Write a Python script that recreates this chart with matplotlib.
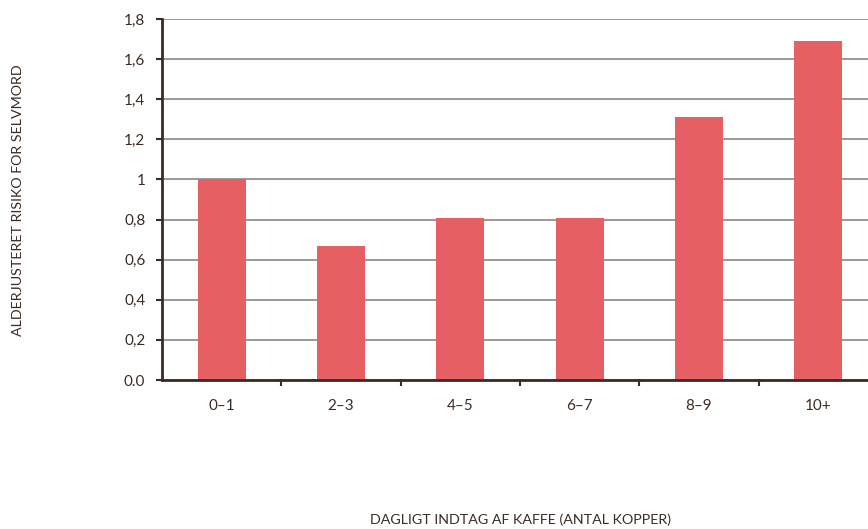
import matplotlib.pyplot as plt
import numpy as np

plt.rcParams["font.family"] = ["Lato", "DejaVu Sans"]

categories = ["0\u20131", "2\u20133", "4\u20135", "6\u20137", "8\u20139", "10+"]
risk = [1.0, 0.67, 0.81, 0.81, 1.31, 1.69]
yticks = [0.0, 0.2, 0.4, 0.6, 0.8, 1.0, 1.2, 1.4, 1.6, 1.8]
ytick_labels = ["0.0", "0,2", "0,4", "0,6", "0,8", "1", "1,2", "1,4", "1,6", "1,8"]

dark = "#3a2c24"
fig = plt.figure(figsize=(8.68, 5.29), dpi=100)
ax = fig.add_axes([162 / 868, 149 / 529, 716 / 868, 361 / 529])

x = np.arange(len(categories))
ax.bar(x, risk, width=0.4, color="#e65f62", zorder=3)

ax.set_xlim(-0.5, len(categories) - 0.5)
ax.set_ylim(0, 1.8)
ax.set_yticks(yticks)
ax.set_yticklabels(ytick_labels)
ax.set_xticks(x)
ax.set_xticklabels(categories)
ax.set_xticks(np.arange(0.5, len(categories) - 0.5), minor=True)
ax.tick_params(axis="x", which="major", length=0, pad=14, labelsize=11, labelcolor=dark)
ax.tick_params(axis="x", which="minor", length=4, width=1.5, color=dark)
ax.tick_params(axis="y", length=4, width=1.5, color=dark, labelsize=11, labelcolor=dark, pad=8)

ax.grid(axis="y", color="#8a8683", linewidth=1.2, zorder=0)
for s in ["top", "right"]:
    ax.spines[s].set_visible(False)
for s in ["left", "bottom"]:
    ax.spines[s].set_color(dark)
    ax.spines[s].set_linewidth(2)
    ax.spines[s].set_zorder(4)

fig.text(18 / 868, 1 - 200 / 529, "ALDERJUSTERET RISIKO FOR SELVMORD", rotation=90,
         ha="center", va="center", fontsize=10.3, color=dark)
fig.text(520 / 868, 1 - 520 / 529, "DAGLIGT INDTAG AF KAFFE (ANTAL KOPPER)",
         ha="center", va="center", fontsize=10.3, color=dark)

fig.savefig("out.png", dpi=100, facecolor="white")
